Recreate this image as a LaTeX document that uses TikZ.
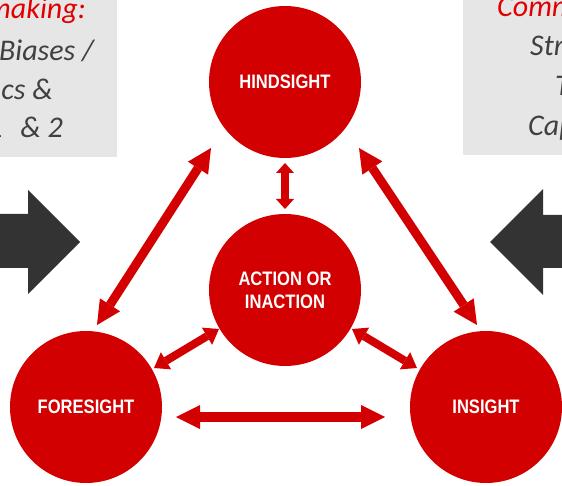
\documentclass[tikz,border=0pt]{standalone}
\usepackage{fontspec}
\setmainfont{Carlito}
\newfontfamily\lblfont[FakeStretch=0.85]{Liberation Sans}
\usetikzlibrary{arrows.meta}

\definecolor{cred}{RGB}{210,0,0}
\definecolor{tred}{RGB}{224,0,0}
\definecolor{boxgray}{RGB}{231,230,230}
\definecolor{txtgray}{RGB}{64,64,64}
\definecolor{arrgray}{RGB}{51,51,51}

\tikzset{
  stage/.style={circle, fill=cred, minimum size=152pt, inner sep=0pt,
    align=center, text=white,
    font=\lblfont\bfseries\fontsize{19.5}{23}\selectfont},
  panel/.style={fill=boxgray, draw=none},
  paneltext/.style={inner sep=0pt, text=txtgray,
    font=\itshape\fontsize{30}{39}\selectfont},
  paneltitle/.style={paneltext, text=tred},
  bigtip/.tip={Triangle[length=24pt,width=24pt,line width=0pt]},
  midtip/.tip={Triangle[length=14pt,width=20pt,line width=0pt]},
  smalltip/.tip={Triangle[length=10pt,width=18pt,line width=0pt]},
  linkbig/.style={draw=cred, line width=10pt, bigtip-bigtip},
  linkdiag/.style={draw=cred, line width=9pt, bigtip-bigtip},
  linkmid/.style={draw=cred, line width=8pt, midtip-midtip},
  linksmall/.style={draw=cred, line width=8pt, smalltip-smalltip},
  blockarrow/.style={fill=arrgray, draw=none},
}

\begin{document}
\begin{tikzpicture}[x=1pt,y=-1pt]
  \clip (0,0) rectangle (562,486);

  % side panels
  \path[panel] (0,0) rectangle (117,157);
  \path[panel] (463,0) rectangle (562,155);

  \node[paneltitle, anchor=base east] (lt1) at (86,19) {making:};
  \node[paneltext, anchor=base east] (lt2) at (94,61) {Biases /};
  \node[paneltext, anchor=base east] (lt3) at (53,100) {cs \&};
  \node[paneltext, anchor=base east] (lt4) at (63,138) {1~~\kern4pt\& 2};

  \node[paneltitle, anchor=base west] (rt1) at (497,17) {Comm};
  \node[paneltext, anchor=base west] (rt2) at (530,56) {Str};
  \node[paneltext, anchor=base west] (rt3) at (555,96) {T};
  \node[paneltext, anchor=base west] (rt4) at (528,136) {Cap};

  % block arrows pointing inwards
  \path[blockarrow] (0,214) -- (28,214) -- (28,190) -- (80,242)
    -- (28,294) -- (28,268) -- (0,268) -- cycle;
  \path[blockarrow] (562,215) -- (543,215) -- (543,189) -- (490,242)
    -- (543,295) -- (543,268) -- (562,268) -- cycle;

  % stages
  \node[stage] (hind) at (285,82) {HINDSIGHT};
  \node[stage] (act) at (285,290) {ACTION OR\\INACTION};
  \node[stage] (fore) at (86,407) {FORESIGHT};
  \node[stage] (ins) at (486,407) {INSIGHT};

  % connector ends
  \coordinate (fh1) at (97,325);
  \coordinate (fh2) at (211,148);
  \coordinate (ih1) at (477,325);
  \coordinate (ih2) at (359,148);
  \coordinate (ha1) at (285,163);
  \coordinate (ha2) at (285,209);
  \coordinate (fi1) at (176,417);
  \coordinate (fi2) at (385,417);
  \coordinate (af1) at (219,329);
  \coordinate (af2) at (154,368);
  \coordinate (ai1) at (352,329);
  \coordinate (ai2) at (417,368);

  % links between stages
  \draw[linkdiag] (fh1) -- (fh2);
  \draw[linkdiag] (ih1) -- (ih2);
  \draw[linksmall] (ha1) -- (ha2);
  \draw[linkbig] (fi1) -- (fi2);
  \draw[linkmid] (af1) -- (af2);
  \draw[linkmid] (ai1) -- (ai2);
\end{tikzpicture}
\end{document}
